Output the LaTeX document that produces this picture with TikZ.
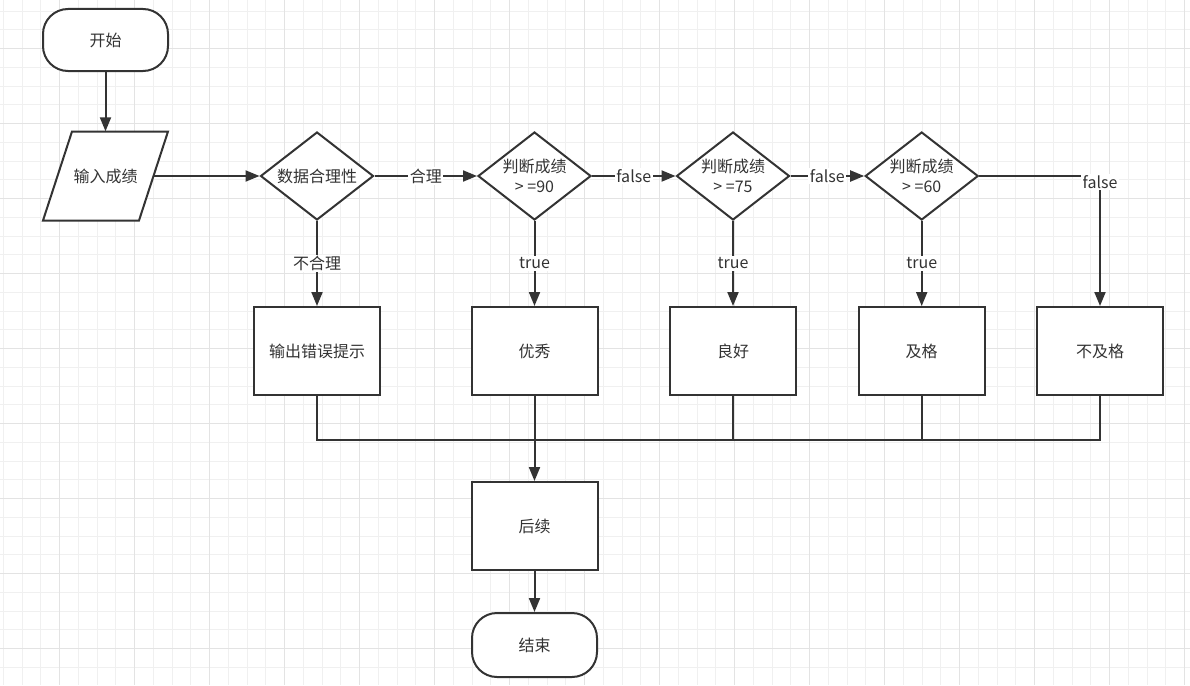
\documentclass[tikz,border=0pt]{standalone}
\usepackage{fontspec}
\setmainfont{Noto Sans CJK SC}
\usetikzlibrary{shapes.geometric,arrows.meta}
\definecolor{ln}{HTML}{333333}
\definecolor{gmin}{HTML}{F0F0F0}
\definecolor{gmaj}{HTML}{E3E3E3}
\begin{document}
\begin{tikzpicture}[x=1pt,y=-1pt,
  every node/.style={font=\fontsize{16}{20}\selectfont, text=ln},
  shp/.style={draw=ln, line width=2pt, fill=white},
  term/.style={shp, rectangle, rounded corners=25pt, minimum width=125pt, minimum height=62pt},
  box/.style={shp, rectangle, minimum width=126pt, minimum height=88pt},
  dia/.style={shp, diamond, minimum width=113pt, minimum height=88pt, inner sep=-6pt, align=center},
  conn/.style={draw=ln, line width=2pt},
  arr/.style={conn, -{Triangle[length=14pt,width=11pt]}},
  lbl/.style={fill=white, inner sep=1.5pt}
]
\useasboundingbox (0,0) rectangle (1190,685);
\fill[white] (0,0) rectangle (1190,685);
% grid
\foreach \i in {0,...,63} {\draw[gmin, line width=1pt] ({3.25+\i*18.75},0) -- ({3.25+\i*18.75},685);}
\foreach \i in {0,...,35} {\draw[gmin, line width=1pt] (0,{11.2+\i*18.75}) -- (1190,{11.2+\i*18.75});}
\foreach \i in {0,...,15} {\draw[gmaj, line width=1pt] ({59.5+\i*75},0) -- ({59.5+\i*75},685);}
\foreach \i in {0,...,8} {\draw[gmaj, line width=1pt] (0,{48.7+\i*75}) -- (1190,{48.7+\i*75});}

% parallelogram outline of the input node
\draw[shp] (72,131.5) -- (168,131.5) -- (139,220.5) -- (43,220.5) -- cycle;

% nodes
\node[term] (start) at (105.5,40) {开始};
\node[minimum width=96pt, minimum height=89pt, inner sep=0pt] (in) at (105.5,176) {输入成绩};
\node[dia] (d1) at (317,176) {数据合理性};
\node[dia] (d2) at (534.5,176) {判断成绩\\> =90};
\node[dia] (d3) at (733,176) {判断成绩\\> =75};
\node[dia] (d4) at (921.7,176) {判断成绩\\> =60};
\node[box] (b1) at (317,351) {输出错误提示};
\node[box] (b2) at (534.5,351) {优秀};
\node[box] (b3) at (733,351) {良好};
\node[box] (b4) at (921.7,351) {及格};
\node[box] (b5) at (1100,351) {不及格};
\node[box] (after) at (534.5,526) {后续};
\node[term, minimum height=64pt] (end) at (534.5,645) {结束};

% connectors
\draw[arr] (start) -- (in);
\draw[arr] (in) -- (d1);
\draw[arr] (d1) -- node[lbl]{合理} (d2);
\draw[arr] (d2) -- node[lbl]{false} (d3);
\draw[arr] (d3) -- node[lbl]{false} (d4);
\draw[arr] (d4.east) -| node[lbl, pos=0.5, yshift=-6pt]{false} (b5.north);
\draw[arr] (d1) -- node[lbl]{不合理} (b1);
\draw[arr] (d2) -- node[lbl]{true} (b2);
\draw[arr] (d3) -- node[lbl]{true} (b3);
\draw[arr] (d4) -- node[lbl]{true} (b4);
\draw[conn] (b1.south) -- ++(0,44) -| (b5.south);
\draw[conn] (b3.south) -- ++(0,44);
\draw[conn] (b4.south) -- ++(0,44);
\draw[arr] (b2) -- (after);
\draw[arr] (after) -- (end);
\end{tikzpicture}
\end{document}
